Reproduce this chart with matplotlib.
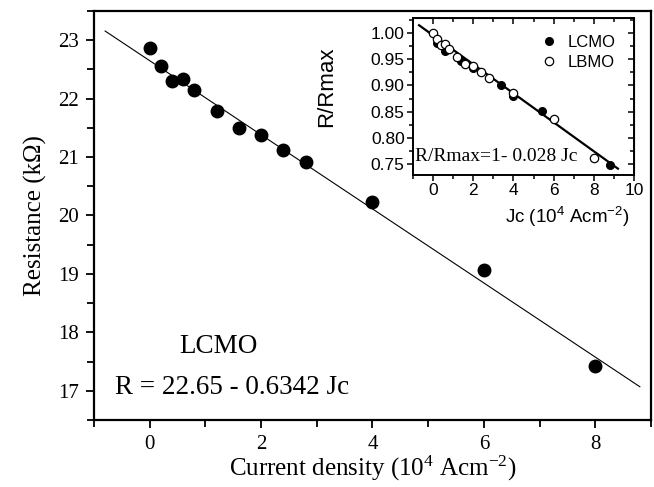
import matplotlib
matplotlib.use("Agg")
import matplotlib.pyplot as plt
import matplotlib.ticker as mticker
import numpy as np

SERIF = "Liberation Serif"
SANS = "Liberation Sans"

# main panel: LCMO resistance vs current density
jc_main = [0, 0.2, 0.4, 0.6, 0.8, 1.2, 1.6, 2.0, 2.4, 2.8, 4.0, 6.0, 8.0]
r_main = [22.86, 22.56, 22.30, 22.34, 22.15, 21.79, 21.49, 21.38, 21.12, 20.91, 20.23, 19.07, 17.43]
fit_main = (22.65, -0.6342)
fit_main_range = (-0.8, 8.8)

# inset: normalised resistance
jc_lcmo = [0.17, 0.6, 1.4, 2.0, 3.4, 4.0, 5.4, 8.8]
rr_lcmo = [0.981, 0.966, 0.946, 0.933, 0.900, 0.879, 0.851, 0.748]
jc_lbmo = [0, 0.2, 0.4, 0.6, 0.8, 1.2, 1.6, 2.0, 2.4, 2.8, 4.0, 6.0, 8.0]
rr_lbmo = [1.000, 0.988, 0.977, 0.979, 0.969, 0.954, 0.941, 0.936, 0.925, 0.915, 0.886, 0.836, 0.763]
fit_inset = (0.995, -0.0275)
fit_inset_range = (-0.7, 9.2)

fig = plt.figure(figsize=(6.54, 4.87), dpi=100)
fig.patch.set_facecolor("white")

# ---- main axes
ax = fig.add_axes([0.1437, 0.1376, 0.8517, 0.8398])
ax.plot(jc_main, r_main, "o", color="black", ms=9, zorder=3)
xf = np.array(fit_main_range)
ax.plot(xf, fit_main[0] + fit_main[1] * xf, color="black", lw=0.8)

ax.set_xlim(-1, 9)
ax.set_ylim(16.5, 23.5)
ax.xaxis.set_major_locator(mticker.MultipleLocator(2))
ax.xaxis.set_minor_locator(mticker.MultipleLocator(1))
ax.yaxis.set_major_locator(mticker.MultipleLocator(1))
ax.yaxis.set_minor_locator(mticker.MultipleLocator(0.5))
ax.tick_params(which="both", direction="out", width=1.3, top=False, right=False)
ax.tick_params(which="major", length=6, labelsize=15, pad=5)
ax.tick_params(which="minor", length=5)
for lab in ax.get_xticklabels() + ax.get_yticklabels():
    lab.set_family(SERIF)
for sp in ax.spines.values():
    sp.set_linewidth(1.6)

ax.set_xlabel("Current density (10$\\mathregular{^4}$ Acm$\\mathregular{^{-2}}$)",
              family=SERIF, fontsize=18, labelpad=0)
ax.set_ylabel("Resistance (k\u03a9)", family=SERIF, fontsize=18, labelpad=8)

ax.text(1.24, 17.75, "LCMO", family=SERIF, fontsize=19.5, ha="center", va="center")
ax.text(-0.62, 17.06, "R = 22.65 - 0.6342 Jc", family=SERIF, fontsize=19.5,
        ha="left", va="center")

# ---- inset
ins = fig.add_axes([0.6315, 0.6407, 0.3379, 0.3224])
ins.plot(jc_lcmo, rr_lcmo, "o", color="black", ms=5.5, label="LCMO", zorder=3)
ins.plot(jc_lbmo, rr_lbmo, "o", mfc="white", mec="black", mew=0.9, ms=6,
         label="LBMO", zorder=4)
xi = np.array(fit_inset_range)
ins.plot(xi, fit_inset[0] + fit_inset[1] * xi, color="black", lw=1.6, zorder=2)

ins.set_xlim(-1, 10)
ins.set_ylim(0.73, 1.028)
ins.xaxis.set_major_locator(mticker.MultipleLocator(2))
ins.xaxis.set_minor_locator(mticker.MultipleLocator(1))
ins.yaxis.set_major_locator(mticker.MultipleLocator(0.05))
ins.yaxis.set_minor_locator(mticker.MultipleLocator(0.025))
ins.yaxis.set_major_formatter(mticker.FormatStrFormatter("%.2f"))
ins.tick_params(which="both", direction="out", width=1.1, labelsize=12.5, pad=2)
ins.tick_params(which="major", length=4)
ins.tick_params(which="minor", length=3)
for lab in ins.get_xticklabels() + ins.get_yticklabels():
    lab.set_family(SANS)
for sp in ins.spines.values():
    sp.set_linewidth(1.4)

# inward ticks on top and right
top = ins.secondary_xaxis("top")
top.xaxis.set_major_locator(mticker.MultipleLocator(2))
top.xaxis.set_minor_locator(mticker.MultipleLocator(1))
top.tick_params(which="both", direction="in", labeltop=False, width=1.1)
top.tick_params(which="major", length=4)
top.tick_params(which="minor", length=3)
right = ins.secondary_yaxis("right")
right.yaxis.set_major_locator(mticker.MultipleLocator(0.05))
right.yaxis.set_minor_locator(mticker.MultipleLocator(0.025))
right.tick_params(which="both", direction="in", labelright=False, width=1.1)
right.tick_params(which="major", length=4)
right.tick_params(which="minor", length=3)

ins.set_xlabel("Jc (10$\\mathregular{^4}$ Acm$\\mathregular{^{-2}}$)", family=SANS, fontsize=13.5)
ins.xaxis.set_label_coords(0.70, -0.19)
ins.set_ylabel("R/Rmax", family=SANS, fontsize=16)
ins.yaxis.set_label_coords(-0.345, 0.56)

ins.text(-0.9, 0.766, "R/Rmax=1- 0.028 Jc", family=SERIF, fontsize=14,
         ha="left", va="center")

leg = ins.legend(loc="upper left", bbox_to_anchor=(0.51, 0.99), frameon=False,
                 prop={"family": SANS, "size": 12}, handlelength=1.0,
                 handletextpad=0.6, labelspacing=0.3)

fig.savefig("out.png", dpi=100, facecolor="white")
